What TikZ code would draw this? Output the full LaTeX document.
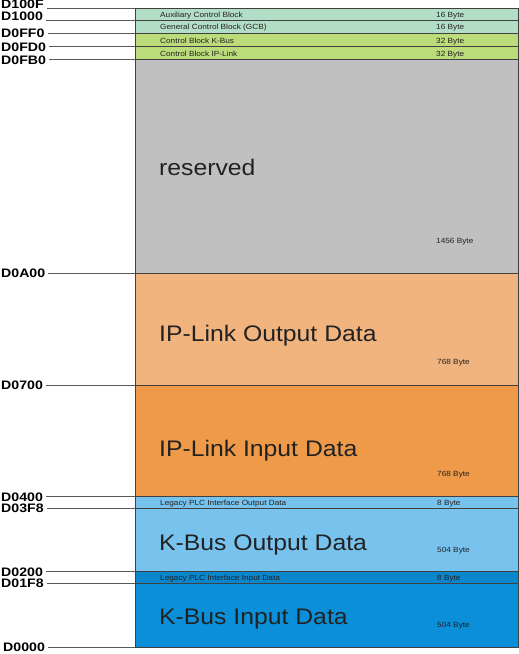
\documentclass[tikz,border=0pt]{standalone}
\usepackage{fontspec}
\setmainfont{Liberation Sans}[FakeStretch=1.1]
\newfontfamily\lblfont{Liberation Sans}[FakeStretch=1.15]
\definecolor{cmint}{HTML}{B3DEC6}
\definecolor{cgreen}{HTML}{BCDB7A}
\definecolor{cgray}{HTML}{C0C0C0}
\definecolor{corlight}{HTML}{F1B47E}
\definecolor{cor}{HTML}{EF9A48}
\definecolor{cbluelight}{HTML}{77C3EE}
\definecolor{cblue}{HTML}{0A8FD8}
\definecolor{cbluedark}{HTML}{0A86CC}
\definecolor{ctext}{HTML}{222222}
\definecolor{cborder}{HTML}{404040}
\definecolor{cline}{HTML}{5A5A5A}
\begin{document}
\begin{tikzpicture}[x=1pt,y=-1pt,
  blk/.style={draw=cborder,line width=0.8pt},
  lblline/.style={draw=cline,line width=0.9pt},
  addr/.style={anchor=base west,inner sep=0pt,text=black,font=\lblfont\bfseries\fontsize{12.3}{12.3}\selectfont},
  small/.style={anchor=base west,inner sep=0pt,text=ctext,font=\fontsize{7.5}{7.5}\selectfont},
  big/.style={anchor=base west,inner sep=0pt,text=ctext,font=\fontsize{22.5}{22.5}\selectfont}]
\useasboundingbox (0,0) rectangle (519,654);
% block boundaries
\coordinate (b100F) at (135,8);
\coordinate (b1000) at (135,20.7);
\coordinate (b0FF0) at (135,33.3);
\coordinate (b0FD0) at (135,46.7);
\coordinate (b0FB0) at (135,59.5);
\coordinate (b0A00) at (135,273.3);
\coordinate (b0700) at (135,385);
\coordinate (b0400) at (135,496.7);
\coordinate (b03F8) at (135,508.3);
\coordinate (b0200) at (135,571.7);
\coordinate (b01F8) at (135,583.3);
\coordinate (b0000) at (135,647);
% blocks
\path[blk,fill=cmint] (b100F) rectangle (518,20.7);
\path[blk,fill=cmint] (b1000) rectangle (518,33.3);
\path[blk,fill=cgreen] (b0FF0) rectangle (518,46.7);
\path[blk,fill=cgreen] (b0FD0) rectangle (518,59.5);
\path[blk,fill=cgray] (b0FB0) rectangle (518,273.3);
\path[blk,fill=corlight] (b0A00) rectangle (518,385);
\path[blk,fill=cor] (b0700) rectangle (518,496.7);
\path[blk,fill=cbluelight] (b0400) rectangle (518,508.3);
\path[blk,fill=cbluelight] (b03F8) rectangle (518,571.7);
\path[blk,fill=cbluedark] (b0200) rectangle (518,583.3);
\path[blk,fill=cblue] (b01F8) rectangle (518,647);
% block texts
\node[small] (t1) at (160,17) {Auxiliary Control Block};
\node[small] (s1) at (436,17) {16 Byte};
\node[small] (t2) at (160,29.7) {General Control Block (GCB)};
\node[small] (s2) at (436,29.7) {16 Byte};
\node[small] (t3) at (160,43) {Control Block K-Bus};
\node[small] (s3) at (436,43) {32 Byte};
\node[small] (t4) at (160,56) {Control Block IP-Link};
\node[small] (s4) at (436,56) {32 Byte};
\node[big] (t5) at (159,175) {reserved};
\node[small] (s5) at (436,243.3) {1456 Byte};
\node[big] (t6) at (159,341) {IP-Link Output Data};
\node[small] (s6) at (437,364) {768 Byte};
\node[big] (t7) at (159,456.7) {IP-Link Input Data};
\node[small] (s7) at (437,476.7) {768 Byte};
\node[small] (t8) at (160,505.5) {Legacy PLC Interface Output Data};
\node[small] (s8) at (437,505.5) {8 Byte};
\node[big] (t9) at (159,550) {K-Bus Output Data};
\node[small] (s9) at (437,552.7) {504 Byte};
\node[small] (t10) at (160,580.5) {Legacy PLC Interface Input Data};
\node[small] (s10) at (437,580.5) {8 Byte};
\node[big] (t11) at (159,624) {K-Bus Input Data};
\node[small] (s11) at (437,627.3) {504 Byte};
% address labels
\node[addr] (l100F) at (1,8.2) {D100F};
\node[addr] (l1000) at (1,20.9) {D1000};
\node[addr] (l0FF0) at (1,37.8) {D0FF0};
\node[addr] (l0FD0) at (1,51.1) {D0FD0};
\node[addr] (l0FB0) at (1,64.4) {D0FB0};
\node[addr] (l0A00) at (1,277.8) {D0A00};
\node[addr] (l0700) at (1,389.5) {D0700};
\node[addr] (l0400) at (1,501.1) {D0400};
\node[addr] (l03F8) at (1,512.8) {D03F8};
\node[addr] (l0200) at (1,576.2) {D0200};
\node[addr] (l01F8) at (1,587.8) {D01F8};
\node[addr] (l0000) at (3,651.4) {D0000};
\foreach \a in {100F,1000,0FF0,0FD0,0FB0,0A00,0700,0400,03F8,0200,01F8,0000}
  \draw[lblline] ([xshift=3pt]l\a.east |- b\a) -- (b\a);
\end{tikzpicture}
\end{document}
